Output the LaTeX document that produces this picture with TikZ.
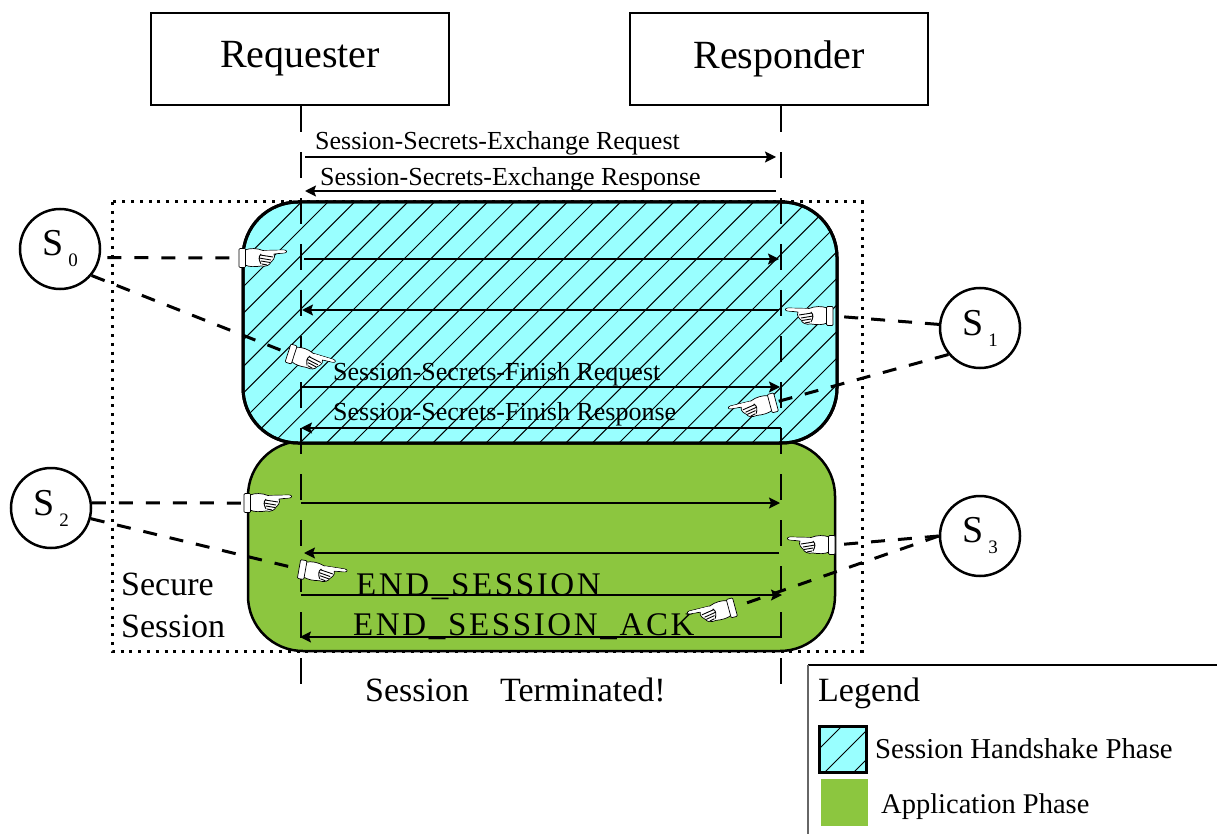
\documentclass[tikz,border=0pt]{standalone}
\usepackage{fontspec}
\setmainfont{Liberation Serif}
\usetikzlibrary{arrows.meta,calc}
\definecolor{hsblue}{HTML}{99FFFF}
\definecolor{appgreen}{HTML}{8CC63F}
\newcommand{\fs}[1]{\fontsize{#1}{#1}\selectfont}
\newcommand{\stname}[1]{\fs{38}S\hspace{5pt}\raisebox{-11pt}{\fs{19}#1}}
\tikzset{
  titlebox/.style={draw,line width=2.5pt,fill=white,minimum width=298pt,minimum height=92pt,inner sep=0pt,font=\fs{40}},
  state/.style={draw,circle,line width=2.5pt,fill=white,minimum size=80pt,inner sep=0pt},
  lifeline/.style={line width=1.5pt,dash pattern=on 26pt off 20pt},
  msg/.style={line width=1.5pt},
  atk/.style={line width=3pt,dash pattern=on 14pt off 13pt},
  lbl/.style={anchor=base west,inner sep=0pt,font=\fs{26}},
  big/.style={anchor=base west,inner sep=0pt,font=\fs{34}},
  ends/.style={font=\fs{33}\addfontfeatures{LetterSpace=8},anchor=base west,inner sep=0pt},
  hatchline/.style={line width=1pt},
  pics/hand/.style={code={
    \filldraw[fill=white,draw=black,line width=.7pt,line join=round]
      (6,-8) .. controls (11,-10) and (18,-10) .. (24,-7.5)
      -- (45,-8) .. controls (48.5,-8) and (48.5,-5) .. (45,-5)
      -- (35,-4) .. controls (37,0) and (33,3) .. (32,4)
      .. controls (31,7) and (27,9) .. (22,8)
      .. controls (16,9) and (10,9) .. (6,7) -- cycle;
    \filldraw[fill=white,draw=black,line width=.7pt,rounded corners=1pt] (0,-9.5) rectangle (6.5,9.5);
    \draw[line width=.9pt] (21,-3) -- (34,-1) (20,0) -- (32,2) (22,3) -- (31,4.5) (23,6) -- (28,7) (22,-4) .. controls (19,-1) and (20,2) .. (22,6);
    \fill[white] (25,-7.3) -- (45,-7.6) .. controls (47.5,-7.6) and (47.5,-5.4) .. (45,-5.4) -- (30,-4.5) -- cycle;
  }}
}
\begin{document}
\begin{tikzpicture}[x=1pt,y=-1pt]
\useasboundingbox (0,0) rectangle (1217,834);
\fill[white] (0,0) rectangle (1217,834);
% secure session frame
\draw[line width=3pt,dash pattern=on 3pt off 5.8pt] (112,202) rectangle (862,651);
% phases
\draw[fill=appgreen,line width=2.5pt,rounded corners=55pt] (248,441) rectangle (835,651);
\draw[fill=hsblue,line width=3pt,rounded corners=55pt] (243,202) rectangle (837,443);
\begin{scope}
  \clip[rounded corners=55pt] (243,202) rectangle (837,443);
  \foreach \k in {-3,...,28} {
    \pgfmathsetmacro{\c}{530+26.6*\k}
    \draw[hatchline] (\c-202,202) -- (\c-443,443);
  }
\end{scope}
\draw[line width=3pt,rounded corners=55pt] (243,202) rectangle (837,443);
% title boxes
\node[titlebox] (req) at (300,59) {Requester};
\node[titlebox] (res) at (779,59) {Responder};
% life lines
\coordinate (reqend) at (301,688);
\coordinate (resend) at (781,688);
\draw[lifeline] ([xshift=1pt]req.south) -- (reqend);
\draw[lifeline] ([xshift=2pt]res.south) -- (resend);
% messages
\foreach \n/\y/\xa/\xb in {1/157/305/776,3/259/304/779,5/387/301/780,7/503/301/780,9/595/301/782}{
  \coordinate (p\n) at (\xa,\y); \coordinate (q\n) at (\xb,\y);
  \draw[msg,-{Stealth[length=11pt,width=11pt,inset=2pt]}] (p\n) -- (q\n);
}
\foreach \n/\y/\xa/\xb in {2/191/776/305,4/310/779/302,6/428/781/301,8/553/779/304,10/637/781/300}{
  \coordinate (p\n) at (\xa,\y); \coordinate (q\n) at (\xb,\y);
  \draw[msg,-{Stealth[length=11pt,width=11pt,inset=2pt]}] (p\n) -- (q\n);
}
% labels
\node[lbl] (t1) at (315,150) {Session-Secrets-Exchange Request};
\node[lbl] (t2) at (320,186) {Session-Secrets-Exchange Response};
\node[lbl] (t3) at (333,380) {Session-Secrets-Finish Request};
\node[lbl] (t4) at (333,420) {Session-Secrets-Finish Response};
\node[ends] (t5) at (356,595) {END\_SESSION};
\node[ends] (t6) at (353,635) {END\_SESSION\_ACK};
\node[big] (t7) at (365,701) {Session\hspace{31pt}Terminated!};
\node[big] (t8) at (121,595) {Secure};
\node[big] (t9) at (121,637) {Session};
% states
\node[state] (s0) at (60,249) {\stname{0}};
\node[state] (s1) at (980,328) {\stname{1}};
\node[state] (s2) at (51,508) {\stname{2}};
\node[state] (s3) at (980,536) {\stname{3}};
% hands anchor points
\coordinate (h0) at (239,258);
\coordinate (h0b) at (288,353);
\coordinate (h1) at (833,316);
\coordinate (h1b) at (776,402);
\coordinate (h2) at (244,503);
\coordinate (h2b) at (299,569);
\coordinate (h3) at (835,545);
\coordinate (h3b) at (735,607);
% attack connectors
\draw[atk,shorten <=7pt] (s0.-12) -- (h0);
\draw[atk] (s0.-40) -- (h0b);
\draw[atk] (s1.175) -- (h1);
\draw[atk] (s1.220) -- (h1b);
\draw[atk] (s2.7) -- (h2);
\draw[atk] (s2.-15) -- (h2b);
\draw[atk] (s3.180) -- (h3);
\draw[atk] (s3.180) -- (h3b);
% hands
\pic at (h0) {hand};
\pic[rotate=-18] at (h0b) {hand};
\pic[xscale=-1] at (h1) {hand};
\pic[rotate=15,xscale=-1] at (h1b) {hand};
\pic at (h2) {hand};
\pic[rotate=-10] at (h2b) {hand};
\pic[xscale=-1] at (h3) {hand};
\pic[rotate=15,xscale=-1] at (h3b) {hand};
% legend
\draw[line width=1.5pt] (1217,665) -- (808,665);
\draw[line width=1.5pt,black!60] (808,665) -- (808,834);
\node[big] (lg) at (818,701) {Legend};
\draw[fill=hsblue,line width=3pt] (819,726) rectangle (866,772);
\begin{scope}
  \clip (819,726) rectangle (866,772);
  \foreach \c in {1568,1597,1626}{\draw[hatchline] (\c-726,726) -- (\c-772,772);}
\end{scope}
\draw[line width=3pt] (819,726) rectangle (866,772);
\fill[appgreen] (821,779) rectangle (868,826);
\node[lbl,font=\fs{28.8}] (lh) at (875,758) {Session Handshake Phase};
\node[lbl,font=\fs{28.5}] (la) at (881,813) {Application Phase};
\end{tikzpicture}
\end{document}
